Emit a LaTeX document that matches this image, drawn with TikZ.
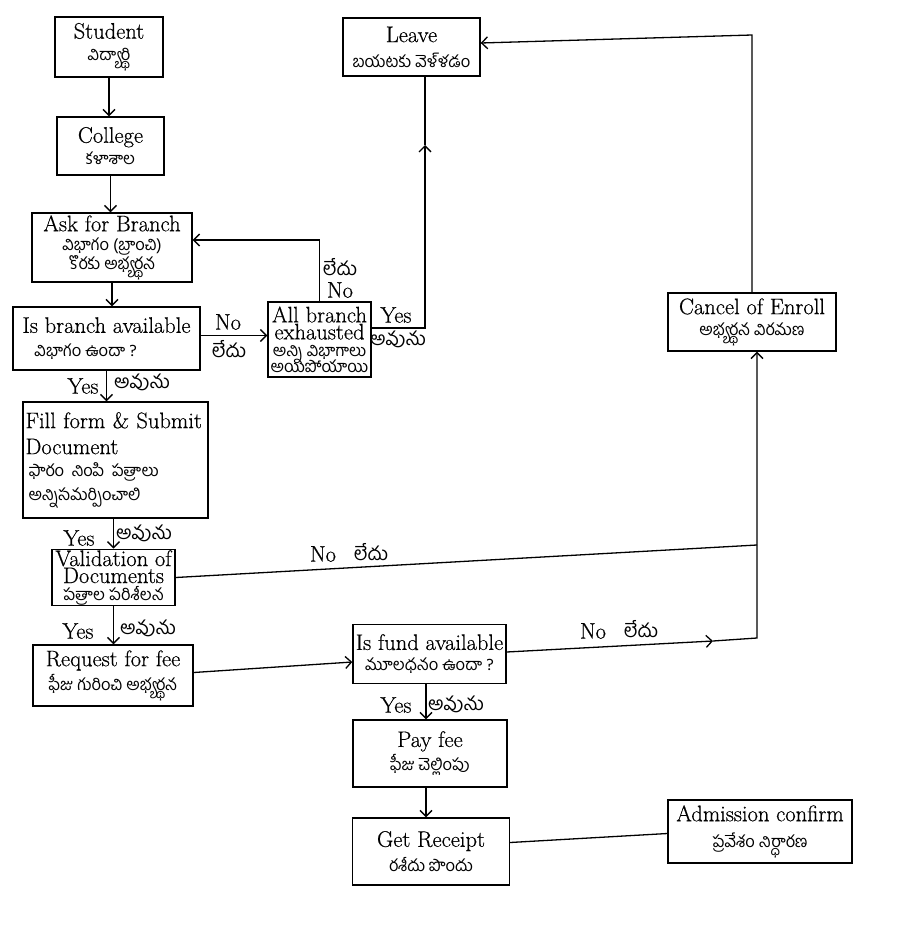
\documentclass[tikz,border=0pt]{standalone}
\usepackage{fontspec}
\newfontfamily\tel[Script=Telugu]{Hind Guntur}
\newfontfamily\enf{Latin Modern Roman}[FakeBold=0.5]
\usetikzlibrary{arrows.meta}
\newcommand\en{\enf\fontsize{22.5}{22}\selectfont}
\newcommand\tl{\tel\fontsize{16.5}{18}\selectfont}
\newcommand\tll{\tel\fontsize{19}{20}\selectfont}
\begin{document}
\begin{tikzpicture}[x=1pt,y=-1pt,
  box/.style={draw, line width=1.4pt, inner sep=1pt, align=center, font=\en},
  conn/.style={line width=1.3pt},
  arr/.style={conn, -{Straight Barb[length=6pt,width=12pt]}},
  lbl/.style={font=\en, inner sep=0pt},
  tlbl/.style={font=\tll, inner sep=0pt}]
\fill[white] (0,0) rectangle (915,929);
\useasboundingbox (0,0) rectangle (915,929);

% boxes
\node[box, minimum width=108pt, minimum height=60pt] (student) at (109,47) {Student\\{\tl విద్యార్థి}};
\node[box, minimum width=107pt, minimum height=58pt] (college) at (110.5,146) {College\\{\tl కళాశాల}};
\node[box, minimum width=137pt, minimum height=58pt] (leave) at (411.5,47) {Leave\\[3pt]{\tl బయటకు వెళ్ళడం}};
\node[box, minimum width=160pt, minimum height=69pt] (ask) at (112,247.5) {Ask for Branch\\[-3pt]{\tl విభాగం (బ్రాంచి)}\\[-3pt]{\tl కొరకు అభ్యర్థన}};
\node[box, minimum width=187pt, minimum height=63pt, align=left] (isbr) at (106.5,338.5) {Is branch available\\[2pt]\hspace*{12pt}{\tl విభాగం ఉందా ?}};
\node[box, minimum width=103pt, minimum height=75pt] (allbr) at (319.5,339.5) {All branch\\[-5pt]exhausted\\[-5pt]{\tl అన్ని విభాగాలు}\\[-6pt]{\tl అయిపోయాయి}};
\node[box, minimum width=185pt, minimum height=116pt, align=left, text width=180pt] (fill) at (115.5,460) {Fill form \& Submit\\[4pt]Document\\{\tl \hspace*{3pt}ఫారం నింపి పత్రాలు}\\[2pt]{\tl \hspace*{3pt}అన్నిసమర్పించాలి}};
\node[box, minimum width=123pt, minimum height=55pt] (valid) at (113.5,577.5) {Validation of\\[-5pt]Documents\\[-5pt]{\tl పత్రాల పరిశీలన}};
\node[box, minimum width=160pt, minimum height=61pt] (request) at (113,675.5) {Request for fee\\[2pt]{\tl ఫీజు గురించి అభ్యర్థన}};
\node[box, minimum width=153pt, minimum height=59pt] (isfund) at (429.5,654) {Is fund available\\[-1pt]{\tl మూలధనం ఉందా ?}};
\node[box, minimum width=154pt, minimum height=67pt] (pay) at (430,753.5) {Pay fee\\[2pt]{\tl ఫీజు చెల్లింపు}};
\node[box, minimum width=157pt, minimum height=67pt] (receipt) at (431,851.5) {Get Receipt\\[3pt]{\tl రశీదు పొందు}};
\node[box, minimum width=184pt, minimum height=63pt] (admission) at (760,831.5) {Admission confirm\\[4pt]{\tl ప్రవేశం నిర్ధారణ}};
\node[box, minimum width=168pt, minimum height=58pt] (cancel) at (752,322) {Cancel of Enroll\\[-1pt]{\tl అభ్యర్థన విరమణ}};

% helper coordinates
\coordinate (a1) at (319.5,240);
\coordinate (k1) at (425,328);
\coordinate (k2) at (425,145);
\coordinate (j1) at (757,638);
\coordinate (j2) at (757,545);
\coordinate (m1) at (713,641);
\coordinate (c1) at (752,35);

% connectors
\draw[arr] (student.south) -- (student.south |- college.north);
\draw[arr] (college.south) -- (college.south |- ask.north);
\draw[arr] (ask.south) -- (ask.south |- isbr.north);
\draw[arr] ([yshift=3pt]isbr.east) -- ([yshift=4pt]allbr.west);
\draw[arr] (allbr.north) -- (a1) -- (a1 -| ask.east);
\draw[arr] (k1 -| allbr.east) -- (k1) -- (k2);
\draw[conn] (k2) -- (k2 |- leave.south);
\draw[arr] (isbr.south) -- (isbr.south |- fill.north);
\draw[arr] (fill.south -| valid.north) -- (valid.north);
\draw[conn] (valid.east) -- (j2);
\draw[arr] (valid.south) -- (valid.south |- request.north);
\draw[arr] ([yshift=3pt]request.east) -- ([yshift=-8pt]isfund.west);
\draw[arr] ([yshift=2pt]isfund.east) -- (m1);
\draw[arr] (m1) -- (j1) -- (j1 |- cancel.south);
\draw[arr] (cancel.north) -- (c1) -- ([yshift=4pt]leave.east);
\draw[arr] (isfund.south -| pay.north) ++(-4,0) coordinate (p1) -- (p1 |- pay.north);
\draw[arr] (pay.south) ++(-4,0) coordinate (p2) -- (p2 |- receipt.north);
\draw[conn] ([yshift=9pt]receipt.east) -- ([yshift=-2pt]admission.west);

% labels
\node[lbl] (l1) at (228,322) {No};
\node[tlbl] (l2) at (229,349) {లేదు};
\node[tlbl] (l3) at (340,267) {లేదు};
\node[lbl] (l4) at (340,290) {No};
\node[lbl] (l5) at (396,315) {Yes};
\node[tlbl] (l6) at (398,339) {అవును};
\node[lbl] (l7) at (83,386) {Yes};
\node[tlbl] (l8) at (142,382) {అవును};
\node[lbl] (l9) at (79,538) {Yes};
\node[tlbl] (l10) at (144,533) {అవును};
\node[lbl] (l11) at (323,554) {No};
\node[tlbl] (l12) at (371,552) {లేదు};
\node[lbl] (l13) at (78,631) {Yes};
\node[tlbl] (l14) at (148,628) {అవును};
\node[lbl] (l15) at (593,631) {No};
\node[tlbl] (l16) at (641,629) {లేదు};
\node[lbl] (l17) at (396,705) {Yes};
\node[tlbl] (l18) at (456,704) {అవును};
\end{tikzpicture}
\end{document}
